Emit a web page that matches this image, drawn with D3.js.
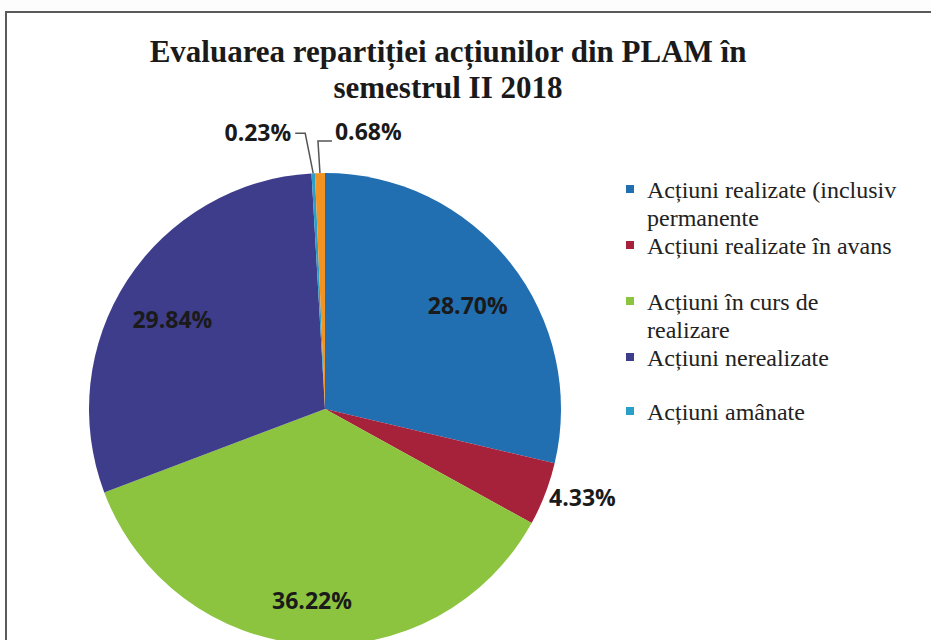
<!DOCTYPE html>
<html>
<head>
<meta charset="utf-8">
<script src="https://cdn.jsdelivr.net/npm/d3@7"></script>
<style>
  body { margin: 0; background: #fdfdfd; }
  svg { display: block; }
</style>
</head>
<body>
<svg id="chart" width="931" height="640"></svg>
<script>
// data
const categories = [
  "Acțiuni realizate (inclusiv|permanente",
  "Acțiuni realizate în avans",
  "Acțiuni în curs de|realizare",
  "Acțiuni nerealizate",
  "Acțiuni amânate",
  ""
];
const values = [28.70, 4.33, 36.22, 29.84, 0.23, 0.68];
const valueLabels = ["28.70%", "4.33%", "36.22%", "29.84%", "0.23%", "0.68%"];
const colors = ["#216eb0", "#a6213a", "#8cc440", "#3e3d8b", "#2a9fc8", "#f39322"];
const titleLines = ["Evaluarea repartiției acțiunilor din PLAM în", "semestrul II 2018"];

const svg = d3.select("#chart");
const cx = 325, cy = 409, r = 236;

// frame of the scanned chart area
svg.append("rect")
  .attr("x", 6).attr("y", 12)
  .attr("width", 960).attr("height", 700)
  .attr("fill", "#fff")
  .attr("stroke", "#5a5a5a")
  .attr("stroke-width", 2);

// title
svg.append("g")
  .selectAll("text")
  .data(titleLines)
  .join("text")
  .attr("x", 448)
  .attr("y", (d, i) => 62 + i * 36)
  .attr("text-anchor", "middle")
  .attr("font-family", "'Liberation Serif', 'Times New Roman', serif")
  .attr("font-weight", "bold")
  .attr("font-size", 31)
  .attr("fill", "#1a1a1a")
  .text(d => d);

const data = values.map((v, i) => ({ name: categories[i], value: v, label: valueLabels[i], color: colors[i] }));

const pie = d3.pie().sort(null).value(d => d.value).startAngle(0).endAngle(2 * Math.PI);
const arcs = pie(data);
const arc = d3.arc().innerRadius(0).outerRadius(r);
const inArc = d3.arc().innerRadius(182).outerRadius(182);
const outArc = d3.arc().innerRadius(276).outerRadius(276);
const edgeArc = d3.arc().innerRadius(r).outerRadius(r);

const g = svg.append("g").attr("transform", `translate(${cx},${cy})`);

g.selectAll("path")
  .data(arcs)
  .join("path")
  .attr("d", arc)
  .attr("fill", d => d.data.color);

const labelFont = "'Open Sans', 'Noto Sans', sans-serif";

// labels: big slices inside, small ones outside, tiny ones with callouts
arcs.forEach((d, i) => {
  const share = d.data.value;
  if (share >= 10) {
    const [x, y] = inArc.centroid(d);
    g.append("text")
      .attr("x", x).attr("y", y + 10)
      .attr("dy", "0.36em")
      .attr("text-anchor", "middle")
      .attr("font-family", labelFont)
      .attr("font-weight", "bold")
      .attr("font-size", 23)
      .attr("fill", "#1a1a1a")
      .text(d.data.label);
  } else if (share >= 1) {
    const [x, y] = outArc.centroid(d);
    g.append("text")
      .attr("x", x).attr("y", y - 11)
      .attr("dy", "0.36em")
      .attr("text-anchor", "middle")
      .attr("font-family", labelFont)
      .attr("font-weight", "bold")
      .attr("font-size", 23)
      .attr("fill", "#1a1a1a")
      .text(d.data.label);
  } else {
    const [ex, ey] = edgeArc.centroid(d);
    const left = i % 2 === 0;
    const ky = left ? ey - 40 : ey - 32;
    const kx = left ? ex - 8 : ex - 2;
    const hx = left ? kx - 10 : kx + 14;
    g.append("polyline")
      .attr("points", [[ex, ey], [kx, ky], [hx, ky]].map(p => p.join(",")).join(" "))
      .attr("fill", "none")
      .attr("stroke", "#555")
      .attr("stroke-width", 1.5);
    g.append("text")
      .attr("x", left ? hx - 4 : hx + 3)
      .attr("y", left ? ky - 1 : ky - 9)
      .attr("dy", "0.36em")
      .attr("text-anchor", left ? "end" : "start")
      .attr("font-family", labelFont)
      .attr("font-weight", "bold")
      .attr("font-size", 23)
      .attr("fill", "#1a1a1a")
      .text(d.data.label);
  }
});

// legend
const legendY = [198, 254, 310, 366, 420];
const legend = svg.append("g");
data.filter(d => d.name).forEach((d, i) => {
  const y = legendY[i];
  legend.append("rect")
    .attr("x", 626).attr("y", y - 13)
    .attr("width", 8).attr("height", 8)
    .attr("fill", d.color);
  legend.append("text")
    .attr("x", 647).attr("y", y)
    .attr("font-family", "'Liberation Serif', 'Times New Roman', serif")
    .attr("font-size", 24)
    .attr("fill", "#222")
    .selectAll("tspan")
    .data(d.name.split("|"))
    .join("tspan")
    .attr("x", 647)
    .attr("dy", (t, j) => j === 0 ? 0 : 28)
    .text(t => t);
});
</script>
</body>
</html>
